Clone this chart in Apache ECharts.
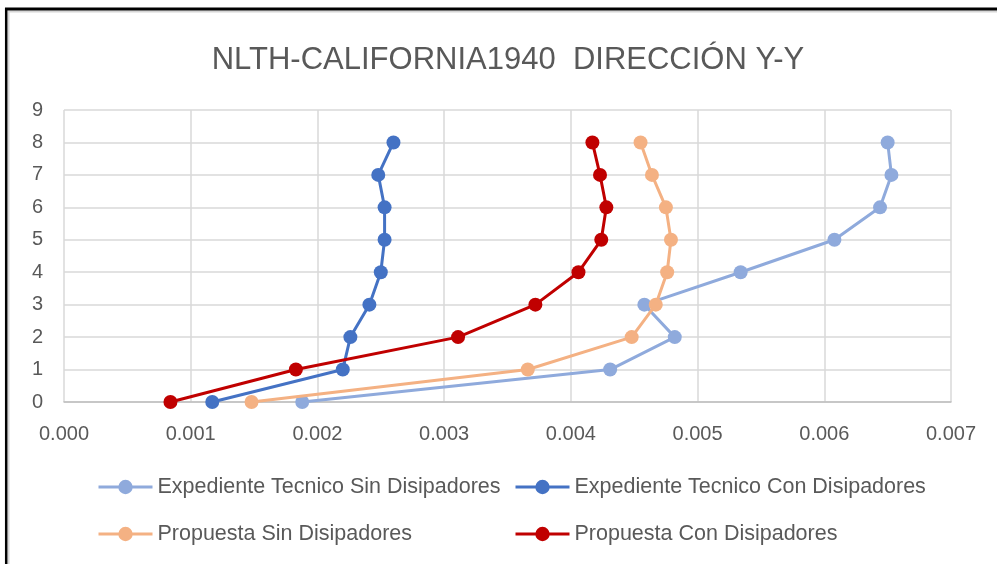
<!DOCTYPE html>
<html>
<head>
<meta charset="utf-8">
<script src="https://cdn.jsdelivr.net/npm/echarts@6/dist/echarts.min.js"></script>
<style>
html,body{margin:0;padding:0;background:#fff;}
#chart{width:997px;height:564px;}
</style>
</head>
<body>
<div id="chart"></div>
<script>
const levels = [0, 1, 2, 3, 4, 5, 6, 7, 8];
const seriesNames = [
  'Expediente Tecnico Sin Disipadores',
  'Expediente Tecnico Con Disipadores',
  'Propuesta Sin Disipadores',
  'Propuesta Con Disipadores'
];
const expSin = [0.00188, 0.00431, 0.00482, 0.00458, 0.00534, 0.00608, 0.00644, 0.00653, 0.00650];
const expCon = [0.00117, 0.00220, 0.00226, 0.00241, 0.00250, 0.00253, 0.00253, 0.00248, 0.00260];
const propSin = [0.00148, 0.00366, 0.00448, 0.00467, 0.00476, 0.00479, 0.00475, 0.00464, 0.00455];
const propCon = [0.00084, 0.00183, 0.00311, 0.00372, 0.00406, 0.00424, 0.00428, 0.00423, 0.00417];
const xTicks = ['0.000','0.001','0.002','0.003','0.004','0.005','0.006','0.007'];
const colors = ['#8FAADC', '#4472C4', '#F4B183', '#C00000'];

const allX = [expSin, expCon, propSin, propCon];
const chart = echarts.init(document.getElementById('chart'));
const font = 'Liberation Sans, Arial, sans-serif';

const series = allX.map((xs, i) => ({
  name: seriesNames[i],
  type: 'line',
  data: xs.map((v, k) => [v, levels[k]]),
  symbol: 'circle',
  symbolSize: 14,
  showSymbol: true,
  lineStyle: { color: colors[i], width: 3 },
  itemStyle: { color: colors[i] },
  emphasis: { disabled: true },
  animation: false,
  z: 2 + i
}));

const legendBase = {
  orient: 'vertical',
  top: 476,
  padding: 0,
  itemWidth: 54,
  itemHeight: 18,
  itemGap: 25,
  lineStyle: { width: 3 },
  textStyle: { fontFamily: font, fontSize: 21.5, color: '#595959', lineHeight: 20, padding: [0, 0, 0, 0] }
};

chart.setOption({
  backgroundColor: '#ffffff',
  animation: false,
  title: {
    text: 'NLTH-CALIFORNIA1940  DIRECCIÓN Y-Y',
    left: 503,
    top: 40,
    textAlign: 'center',
    textStyle: { fontFamily: font, fontSize: 31, fontWeight: 'normal', color: '#595959' }
  },
  grid: { left: 64, top: 110, right: 46, bottom: 162, containLabel: false },
  xAxis: {
    type: 'value',
    min: 0,
    max: 0.007,
    interval: 0.001,
    axisLine: { show: true, lineStyle: { color: '#BFBFBF', width: 1.5 } },
    axisTick: { show: false },
    splitLine: { show: true, lineStyle: { color: '#D9D9D9', width: 1.5 } },
    axisLabel: {
      margin: 22,
      fontFamily: font, fontSize: 20, color: '#595959',
      formatter: (v) => xTicks[Math.round(v / 0.001)]
    }
  },
  yAxis: {
    type: 'value',
    min: 0,
    max: 9,
    interval: 1,
    axisLine: { show: false },
    axisTick: { show: false },
    splitLine: { show: true, lineStyle: { color: '#D9D9D9', width: 1.5 } },
    axisLabel: { margin: 21, fontFamily: font, fontSize: 20, color: '#595959' }
  },
  legend: [
    Object.assign({}, legendBase, { data: [seriesNames[0], seriesNames[2]], left: 97 }),
    Object.assign({}, legendBase, { data: [seriesNames[1], seriesNames[3]], left: 514 })
  ],
  graphic: [
    { type: 'line', shape: { x1: 8, y1: 11.5, x2: 997, y2: 11.5 }, style: { stroke: '#D6D6D6', lineWidth: 2 }, silent: true },
    { type: 'line', shape: { x1: 8.5, y1: 11, x2: 8.5, y2: 564 }, style: { stroke: '#D6D6D6', lineWidth: 2 }, silent: true },
    { type: 'line', shape: { x1: 5, y1: 9, x2: 997, y2: 9 }, style: { stroke: '#000000', lineWidth: 3 }, silent: true },
    { type: 'line', shape: { x1: 6.2, y1: 8, x2: 6.2, y2: 564 }, style: { stroke: '#000000', lineWidth: 2.5 }, silent: true }
  ],
  series: series
});
</script>
</body>
</html>
